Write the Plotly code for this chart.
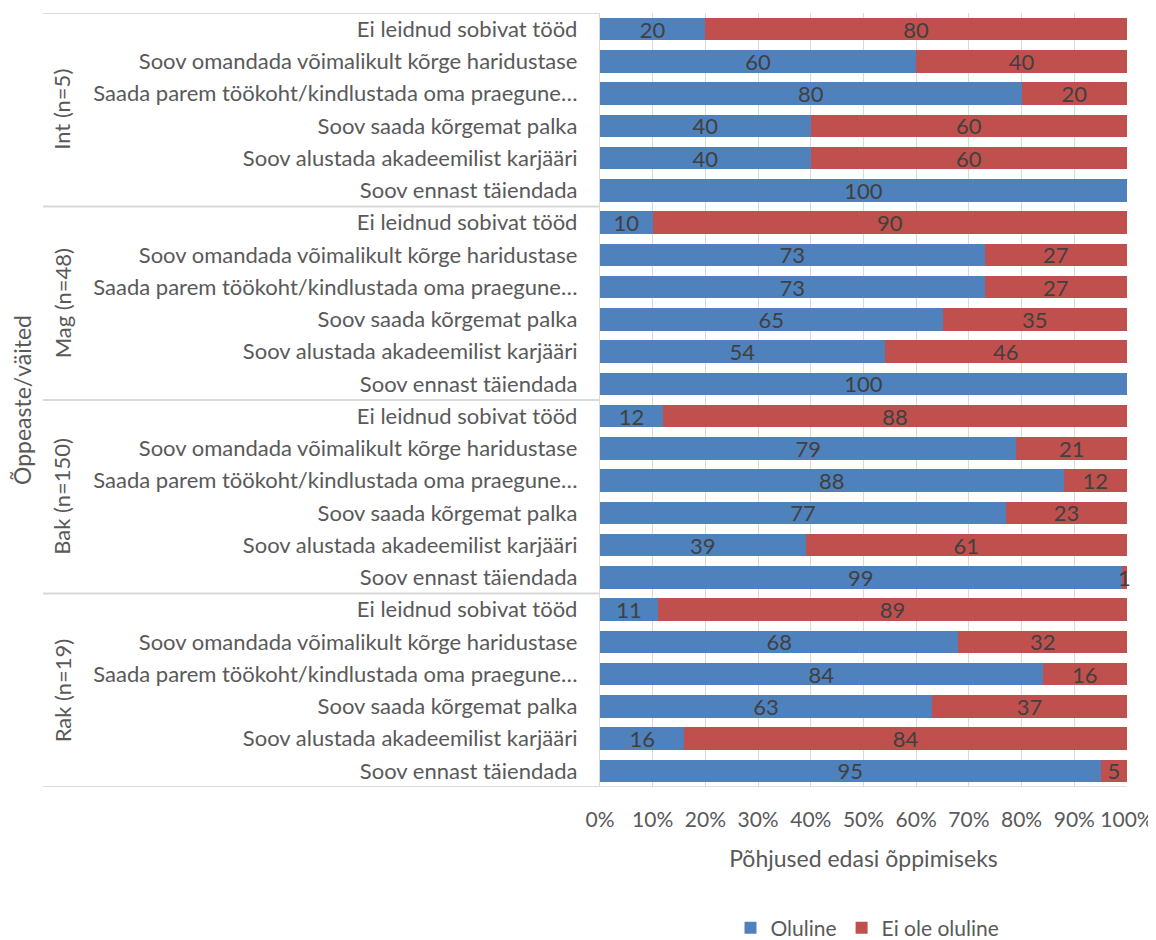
import plotly.graph_objects as go

groups = ["Int (n=5)", "Mag (n=48)", "Bak (n=150)", "Rak (n=19)"]
statements = [
    "Ei leidnud sobivat tööd",
    "Soov omandada võimalikult kõrge haridustase",
    "Saada parem töökoht/kindlustada oma praegune…",
    "Soov saada kõrgemat palka",
    "Soov alustada akadeemilist karjääri",
    "Soov ennast täiendada",
]
oluline = {
    "Int (n=5)":   [20, 60, 80, 40, 40, 100],
    "Mag (n=48)":  [10, 73, 73, 65, 54, 100],
    "Bak (n=150)": [12, 79, 88, 77, 39, 99],
    "Rak (n=19)":  [11, 68, 84, 63, 16, 95],
}
ei_ole = {
    "Int (n=5)":   [80, 40, 20, 60, 60, 0],
    "Mag (n=48)":  [90, 27, 27, 35, 46, 0],
    "Bak (n=150)": [88, 21, 12, 23, 61, 1],
    "Rak (n=19)":  [89, 32, 16, 37, 84, 5],
}
series_names = ["Oluline", "Ei ole oluline"]
x_ticks = [0, 10, 20, 30, 40, 50, 60, 70, 80, 90, 100]
x_title = "Põhjused edasi õppimiseks"
y_title = "Õppeaste/väited"

FONT = "Lato"
TXT = "#595959"
FS = 22
W, H = 1148, 932
ML, MR, MT, MB = 592, 29, 5, 153
PW = W - ML - MR
PH = H - MT - MB

def px(xp):
    # page x (incl. 8px body margin) -> paper coordinate
    return (xp - 8 - ML) / PW

ypos, yl, v1, v2 = [], [], [], []
i = 0
for g in groups:
    for k, s in enumerate(statements):
        ypos.append(i)
        yl.append(s)
        v1.append(oluline[g][k])
        v2.append(ei_ole[g][k])
        i += 1
n = len(ypos)

def lab(v):
    return [str(x) if x > 0 else "" for x in v]

fig = go.Figure()
for name, vals, col in [(series_names[0], v1, "#4F81BD"), (series_names[1], v2, "#C0504D")]:
    fig.add_trace(go.Bar(
        y=ypos, x=vals, orientation="h", name=name,
        marker=dict(color=col, line=dict(width=0)),
        text=lab(vals), textposition="inside", insidetextanchor="middle",
        textangle=0, constraintext="none", cliponaxis=False,
        textfont=dict(family=FONT, size=FS, color="#404040"),
        hoverinfo="skip",
    ))

fig.update_layout(
    width=W, height=H, barmode="stack", bargap=0.3,
    plot_bgcolor="white", paper_bgcolor="white",
    margin=dict(l=ML, r=MR, t=MT, b=MB, autoexpand=False),
    font=dict(family=FONT, size=FS, color=TXT),
    showlegend=True,
    legend=dict(orientation="h", x=(ML + PW / 2 + 4) / W, xanchor="center", xref="container",
                y=(940 - 928) / H, yanchor="middle", yref="container",
                font=dict(family=FONT, size=FS - 1, color=TXT), traceorder="normal",
                itemwidth=30),
)
fig.update_xaxes(range=[0, 100], tickvals=x_ticks, ticktext=[f"{t}%" for t in x_ticks],
                 showgrid=True, gridcolor="#D9D9D9", gridwidth=1.3, zeroline=False,
                 showline=False, ticks="", ticklabelstandoff=18, automargin=False,
                 tickfont=dict(family=FONT, size=FS - 1, color=TXT),
                 title=dict(text=x_title, font=dict(family=FONT, size=FS + 1, color=TXT), standoff=20))
fig.update_yaxes(range=[n - 0.5, -0.5], tickvals=ypos, ticktext=yl, showgrid=False,
                 zeroline=False, showline=True, linecolor="#D9D9D9", linewidth=1.3,
                 ticks="", ticklabelstandoff=17, automargin=False,
                 tickfont=dict(family=FONT, size=FS, color=TXT))

# bottom border line of plot
fig.add_shape(type="line", xref="x", yref="y", x0=0, x1=100, y0=n - 0.5, y1=n - 0.5,
              line=dict(color="#D9D9D9", width=1.3))

# group separators and labels
per = len(statements)
for gi, g in enumerate(groups):
    y0 = gi * per - 0.5
    fig.add_shape(type="line", xref="paper", yref="y", x0=px(43), x1=0,
                  y0=y0, y1=y0, line=dict(color="#D9D9D9", width=2))
    fig.add_annotation(xref="paper", yref="y", x=px(62), y=y0 + per / 2,
                       text=g, textangle=-90, showarrow=False, xanchor="center", yanchor="middle",
                       font=dict(family=FONT, size=FS, color=TXT))
fig.add_shape(type="line", xref="paper", yref="y", x0=px(43), x1=0,
              y0=n - 0.5, y1=n - 0.5, line=dict(color="#D9D9D9", width=2))

fig.add_annotation(xref="paper", yref="paper", x=px(22), y=0.5,
                   text=y_title, textangle=-90, showarrow=False, xanchor="center",
                   yanchor="middle", font=dict(family=FONT, size=FS + 1, color=TXT))

fig.write_html("out.html")
